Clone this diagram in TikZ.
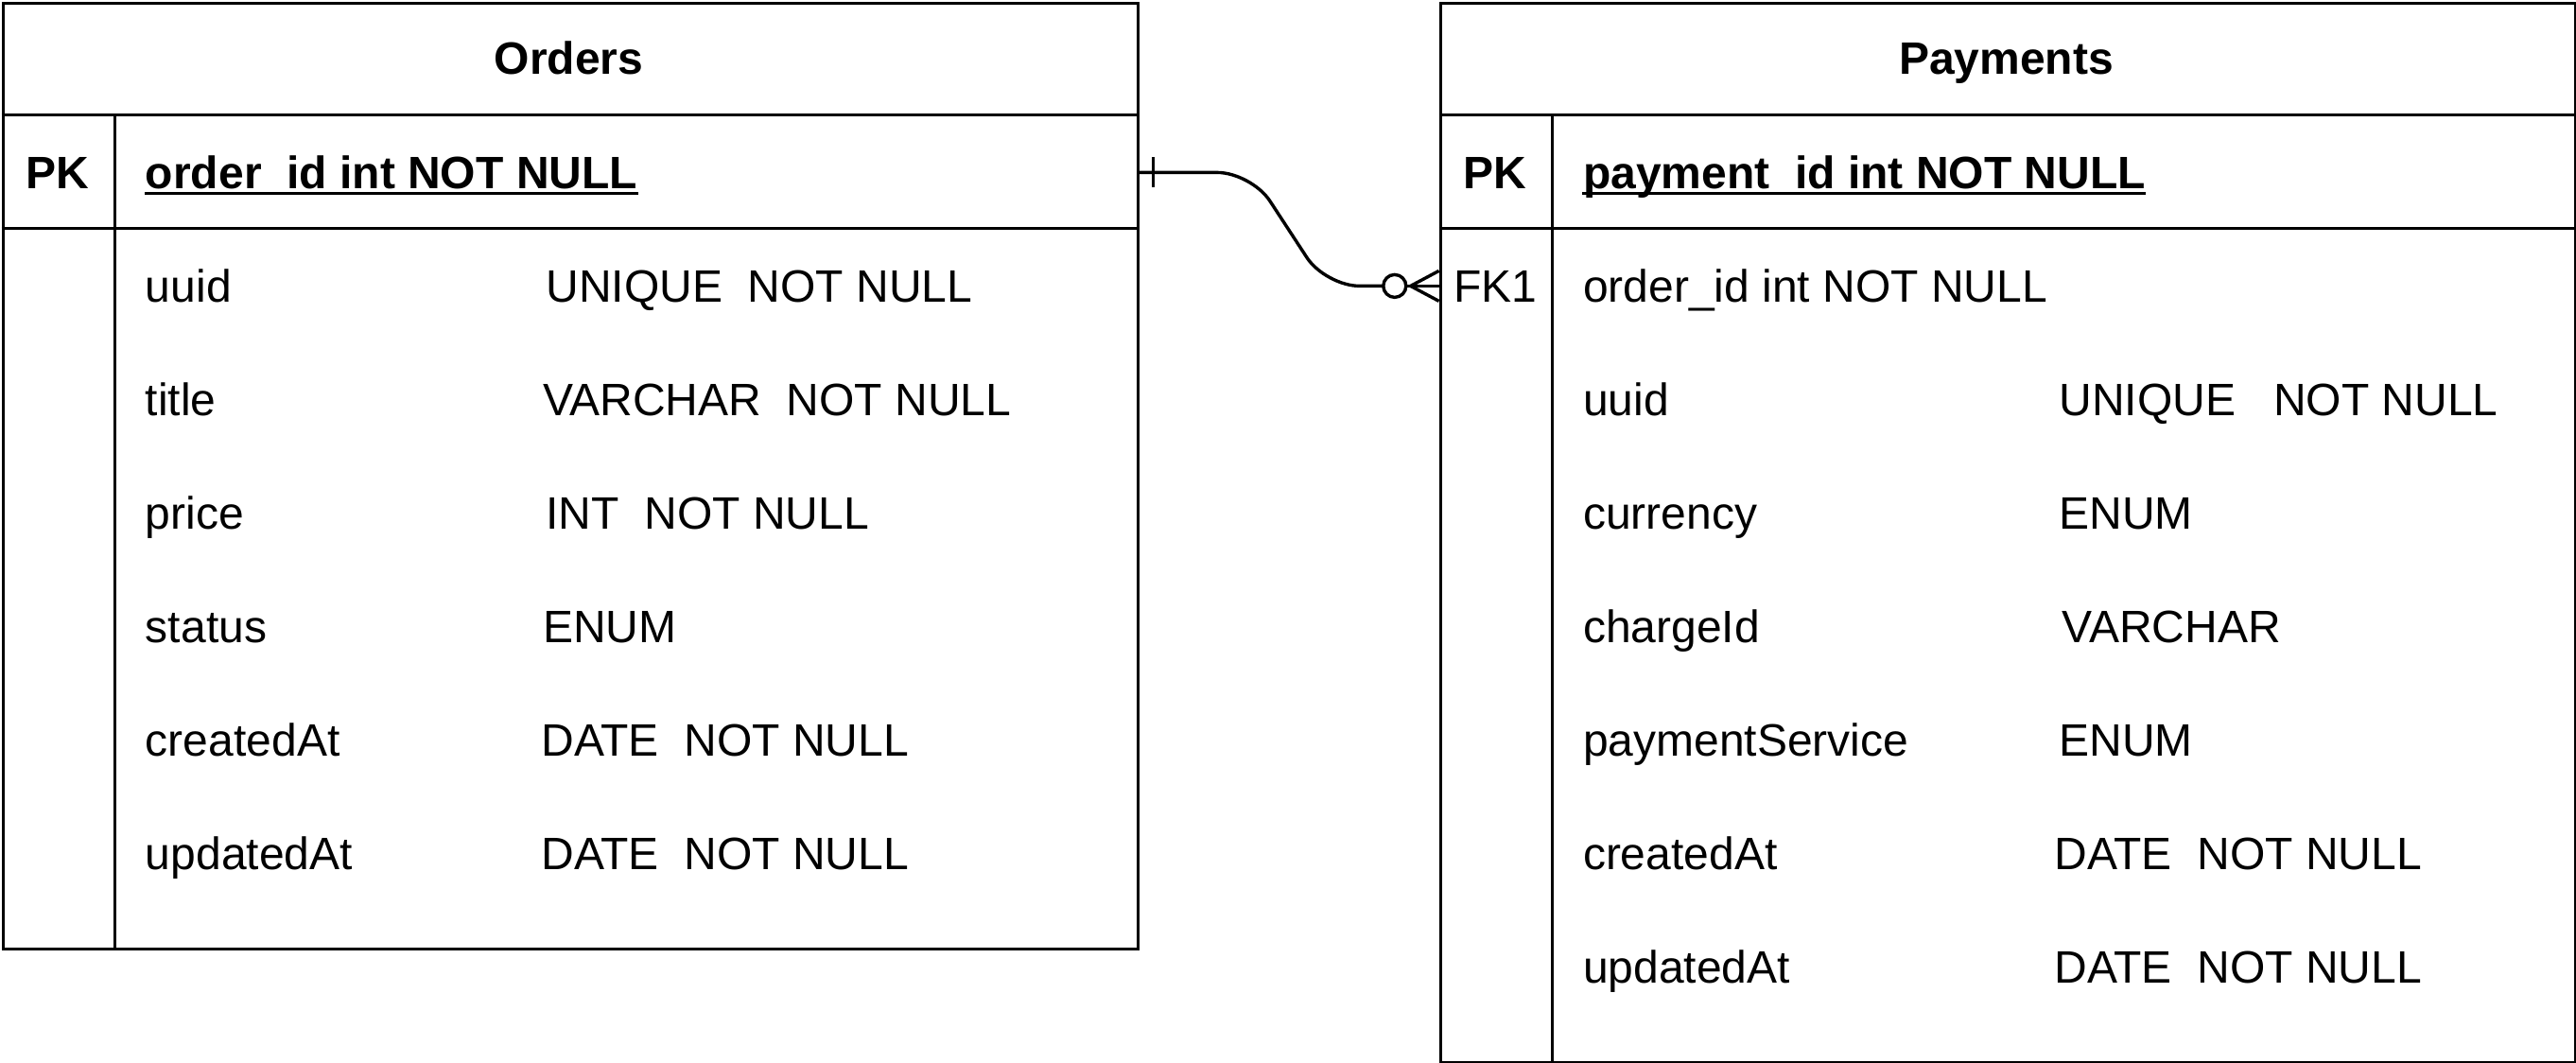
\documentclass[tikz,border=0pt]{standalone}
\usepackage{fontspec}
\setmainfont{Liberation Sans}
\usetikzlibrary{calc}
\begin{document}
\begin{tikzpicture}[x=1pt,y=-1pt,
  tbl/.style={draw, line width=0.85pt, minimum width=300pt, inner sep=0pt, anchor=north west},
  rowbox/.style={minimum width=300pt, minimum height=30pt, inner sep=0pt, anchor=north west},
  txt/.style={anchor=base west, inner sep=0pt, font=\fontsize{12}{14}\selectfont},
  bld/.style={anchor=base west, inner sep=0pt, font=\fontsize{12}{14}\selectfont\bfseries},
  ttl/.style={anchor=base, inner sep=0pt, font=\fontsize{12}{14}\selectfont\bfseries},
  keyb/.style={anchor=base, inner sep=0pt, font=\fontsize{12}{14}\selectfont\bfseries},
  keyr/.style={anchor=base, inner sep=0pt, font=\fontsize{12}{14}\selectfont},
  sep/.style={line width=0.85pt},
  uline/.style={line width=0.7pt},
  rel/.style={line width=0.85pt}]
\useasboundingbox (-0.4,-0.4) rectangle (680.6,280.6);

% ---------- Orders ----------
\node[tbl, minimum height=250pt] (orders) at (0,0) {};
\node[rowbox] (ordpk) at (0,30) {};
\draw[sep] (0,30) -- (300,30) (0,60) -- (300,60) (30,30) -- (30,250);
\node[ttl] (ordtitle) at (150,19.3) {Orders};
\node[keyb] (ordpklbl) at (14.9,49.6) {PK};
\node[bld] (ordpkname) at (37.9,49.6) {order\_id int NOT NULL};
\draw[uline] ($(ordpkname.base west)+(0,1.2)$) -- ($(ordpkname.base east)+(0,1.2)$);

\node[txt] (o1n) at (37.9,79.4) {uuid};
\node[txt] (o1t) at (143.8,79.4) {UNIQUE\ \ NOT NULL};
\node[txt] (o2n) at (37.9,109.4) {title};
\node[txt] (o2t) at (142.9,109.4) {VARCHAR\ \ NOT NULL};
\node[txt] (o3n) at (37.9,139.4) {price};
\node[txt] (o3t) at (143.8,139.4) {INT\ \ NOT NULL};
\node[txt] (o4n) at (37.9,169.4) {status};
\node[txt] (o4t) at (142.9,169.4) {ENUM};
\node[txt] (o5n) at (37.9,199.4) {createdAt};
\node[txt] (o5t) at (142.5,199.4) {DATE\ \ NOT NULL};
\node[txt] (o6n) at (37.9,229.4) {updatedAt};
\node[txt] (o6t) at (142.5,229.4) {DATE\ \ NOT NULL};

% ---------- Payments ----------
\node[tbl, minimum height=280pt] (payments) at (380,0) {};
\node[rowbox] (payfk) at (380,60) {};
\draw[sep] (380,30) -- (680,30) (380,60) -- (680,60) (410,30) -- (410,280);
\node[ttl] (paytitle) at (530,19.3) {Payments};
\node[keyb] (paypklbl) at (394.9,49.6) {PK};
\node[bld] (paypkname) at (417.9,49.6) {payment\_id int NOT NULL};
\draw[uline] ($(paypkname.base west)+(0,1.2)$) -- ($(paypkname.base east)+(0,1.2)$);

\node[keyr] (payfklbl) at (394.9,79.4) {FK1};
\node[txt] (p0n) at (417.9,79.4) {order\_id int NOT NULL};
\node[txt] (p1n) at (417.9,109.4) {uuid};
\node[txt] (p1t) at (543.8,109.4) {UNIQUE\ \ \ NOT NULL};
\node[txt] (p2n) at (417.9,139.4) {currency};
\node[txt] (p2t) at (543.8,139.4) {ENUM};
\node[txt] (p3n) at (417.9,169.4) {chargeId};
\node[txt] (p3t) at (544.6,169.4) {VARCHAR};
\node[txt] (p4n) at (417.9,199.4) {paymentService};
\node[txt] (p4t) at (543.8,199.4) {ENUM};
\node[txt] (p5n) at (417.9,229.4) {createdAt};
\node[txt] (p5t) at (542.5,229.4) {DATE\ \ NOT NULL};
\node[txt] (p6n) at (417.9,259.4) {updatedAt};
\node[txt] (p6t) at (542.5,259.4) {DATE\ \ NOT NULL};

% ---------- Relation: one (Orders.order_id) to zero-or-many (Payments.order_id) ----------
\draw[rel, rounded corners=9pt] (ordpk.east) -- ++(30,0) -- ($(payfk.west)+(-30,0)$) -- ($(payfk.west)+(-14.7,0)$);
% one mark
\draw[rel] ($(ordpk.east)+(4,-4)$) -- ++(0,8);
% zero (circle) and many (crow's foot)
\draw[rel, fill=white] ($(payfk.west)+(-11.7,0)$) circle (3pt);
\draw[rel] ($(payfk.west)+(-8.7,0)$) -- (payfk.west);
\draw[rel] ($(payfk.west)+(0,-4)$) -- ($(payfk.west)+(-7.5,0)$) -- ($(payfk.west)+(0,4)$);
\end{tikzpicture}
\end{document}
